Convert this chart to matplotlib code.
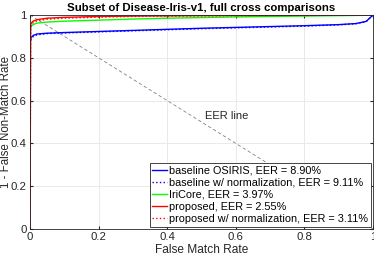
import numpy as np
import matplotlib
matplotlib.use('Agg')
import matplotlib.pyplot as plt

# false match rate sample points
fmr = [0.0, 0.002, 0.005, 0.01, 0.02, 0.05, 0.1, 0.2, 0.3, 0.4, 0.5, 0.6, 0.7, 0.8, 0.9, 0.95, 0.98, 1.0]

osiris = [0.875, 0.89, 0.898, 0.905, 0.911, 0.915, 0.918, 0.923, 0.928, 0.933, 0.938, 0.942, 0.946, 0.95, 0.955, 0.96, 0.97, 1.0]
osiris_norm = [0.865, 0.882, 0.892, 0.9, 0.907, 0.913, 0.916, 0.921, 0.926, 0.931, 0.936, 0.94, 0.944, 0.948, 0.954, 0.959, 0.969, 1.0]
iricore = [0.93, 0.942, 0.95, 0.956, 0.962, 0.967, 0.971, 0.976, 0.981, 0.985, 0.988, 0.991, 0.993, 0.995, 0.997, 0.998, 0.999, 1.0]
proposed = [0.0, 0.955, 0.965, 0.972, 0.978, 0.985, 0.989, 0.993, 0.995, 0.996, 0.997, 0.998, 0.998, 0.999, 0.999, 1.0, 1.0, 1.0]
proposed_norm = [0.0, 0.945, 0.957, 0.965, 0.972, 0.98, 0.985, 0.99, 0.993, 0.995, 0.996, 0.997, 0.998, 0.998, 0.999, 0.999, 1.0, 1.0]

labels = ['baseline OSIRIS, EER = 8.90%',
          'baseline w/ normalization, EER = 9.11%',
          'IriCore, EER = 3.97%',
          'proposed, EER = 2.55%',
          'proposed w/ normalization, EER = 3.11%']

ticks = [0, 0.2, 0.4, 0.6, 0.8, 1]
tick_labels = ['0', '0.2', '0.4', '0.6', '0.8', '1']

plt.rcParams['font.family'] = ['Liberation Sans', 'DejaVu Sans']

fig = plt.figure(figsize=(3.74, 2.58), dpi=100)
ax = fig.add_axes([30 / 374, 29 / 258, 343 / 374, 214 / 258])

ax.plot([0, 1], [1, 0], '--', color='#808080', lw=0.6, dashes=(4, 3))
ax.text(0.51, 0.53, 'EER line', fontsize=8, color='#262626', va='center')

ax.plot(fmr, osiris, '-', color='#0000ff', lw=1.0, label=labels[0])
ax.plot(fmr, osiris_norm, ':', color='#0000ff', lw=1.0, label=labels[1])
ax.plot(fmr, iricore, '-', color='#00ff00', lw=1.0, label=labels[2])
ax.plot(fmr, proposed, '-', color='#ff0000', lw=1.0, label=labels[3])
ax.plot(fmr, proposed_norm, ':', color='#ff0000', lw=1.0, label=labels[4])

ax.set_xlim(0, 1)
ax.set_ylim(0, 1)
ax.set_xticks(ticks)
ax.set_xticklabels(tick_labels)
ax.set_yticks(ticks)
ax.set_yticklabels(tick_labels)
ax.tick_params(direction='in', length=2, labelsize=8.2, colors='#262626', top=True, right=True, pad=2.5)
ax.grid(True, color='#e6e6e6', lw=0.6)
ax.set_axisbelow(True)
for s in ax.spines.values():
    s.set_color('#262626')
    s.set_linewidth(0.6)

ax.set_xlabel('False Match Rate', fontsize=8.6, color='#262626', labelpad=1)
ax.set_ylabel('1 - False Non-Match Rate', fontsize=8.3, color='#262626', labelpad=0)
ax.yaxis.set_label_coords(-0.053, 0.5)
ax.set_title('Subset of Disease-Iris-v1, full cross comparisons', fontsize=8.2, fontweight='bold', pad=3)

leg = ax.legend(loc='lower right', fontsize=7.8, frameon=True, fancybox=False,
                handlelength=1.4, handletextpad=0.15, borderpad=0.25, labelspacing=0.2,
                borderaxespad=0.2)
leg.get_frame().set_edgecolor('#262626')
leg.get_frame().set_linewidth(0.6)
leg.get_frame().set_alpha(1)

fig.savefig('out.png', dpi=100)
